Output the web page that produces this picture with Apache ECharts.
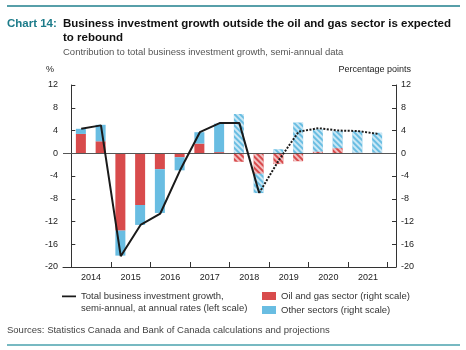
<!DOCTYPE html>
<html>
<head>
<meta charset="utf-8">
<script src="https://cdn.jsdelivr.net/npm/echarts@6/dist/echarts.min.js"></script>
<style>
  html, body { margin: 0; padding: 0; background: #fff; }
  #chart { width: 466px; height: 350px; }
</style>
</head>
<body>
<div id="chart"></div>
<script>
// ---- Data ----
var periods = ['2014H1','2014H2','2015H1','2015H2','2016H1','2016H2','2017H1','2017H2',
               '2018H1','2018H2','2019H1','2019H2','2020H1','2020H2','2021H1','2021H2'];
var yearLabels = ['2014','2015','2016','2017','2018','2019','2020','2021'];
var totalGrowth = [4.3, 4.9, -18.1, -12.6, -10.6, -3.0, 3.7, 5.3, 5.3, -7.0, -1.2, 3.8, 4.4, 4.0, 3.9, 3.4];
var oilGas      = [3.4, 2.1, -13.6, -9.1, -2.8, -0.7, 1.7, 0.2, -1.5, -3.6, -1.9, -1.4, 0.3, 0.9, 0.1, 0.1];
var otherSect   = [0.9, 2.9, -4.4, -3.5, -7.7, -2.3, 2.0, 5.0, 6.9, -3.4, 0.7, 5.4, 3.9, 3.0, 3.8, 3.5];
var leftTicks = { min: -20, max: 12, interval: 4 };
var firstProjectedBar = 8;   // 2018H1 onward hatched
var lastActualLine = 9;      // solid line through 2018H2

var RED = '#d84b4c', BLUE = '#69bde2', FONT = 'Liberation Sans';
var decal = { symbol: 'rect', dashArrayX: [1, 0], dashArrayY: [2, 2], rotation: Math.PI / 4, color: 'rgba(255,255,255,0.65)' };

function barData(arr) {
  return arr.map(function (v, i) {
    var d = { value: v };
    if (i >= firstProjectedBar) d.itemStyle = { decal: decal };
    return d;
  });
}
var solidLine = [], dottedLine = [];
totalGrowth.forEach(function (v, i) {
  if (i <= lastActualLine) solidLine.push([i + 0.5, v]);
  if (i >= lastActualLine) dottedLine.push([i + 0.5, v]);
});
var tickPos = yearLabels.map(function (y, k) { return 2 * k; }).concat([2 * yearLabels.length]);
var labelPos = yearLabels.map(function (y, k) { return 2 * k + 1; });

var chart = echarts.init(document.getElementById('chart'), null, { renderer: 'canvas' });
var axisCol = '#333';
var yAxisCommon = {
  type: 'value', gridIndex: 0, min: leftTicks.min, max: leftTicks.max, interval: leftTicks.interval,
  axisLine: { show: true, lineStyle: { color: axisCol, width: 1 } },
  axisTick: { show: true, inside: true, length: 4, lineStyle: { color: axisCol } },
  splitLine: { show: false },
  axisLabel: { fontFamily: FONT, fontSize: 9, color: '#222', margin: 5 }
};
var lineName = 'Total business investment growth,\nsemi-annual, at annual rates (left scale)';
chart.setOption({
  animation: false,
  textStyle: { fontFamily: FONT },
  title: [
    { text: 'Chart 14:', left: 7, top: 14, padding: [3, 0, 0, 0], textStyle: { fontFamily: FONT, fontSize: 11.5, fontWeight: 'bold', color: '#1c7b89', lineHeight: 14 } },
    { text: 'Business investment growth outside the oil and gas sector is expected\nto rebound', left: 63, top: 14, padding: [3, 0, 0, 0],
      textStyle: { fontFamily: FONT, fontSize: 11.5, fontWeight: 'bold', color: '#111', lineHeight: 14 } },
    { text: 'Contribution to total business investment growth, semi-annual data', left: 63, top: 47, padding: 0,
      textStyle: { fontFamily: FONT, fontSize: 9.5, fontWeight: 'normal', color: '#555' } },
    { text: 'Sources: Statistics Canada and Bank of Canada calculations and projections', left: 7, top: 325, padding: 0,
      textStyle: { fontFamily: FONT, fontSize: 9.5, fontWeight: 'normal', color: '#444' } }
  ],
  graphic: [
    { type: 'line', shape: { x1: 7, y1: 6, x2: 460, y2: 6 }, style: { stroke: '#1f7f8c', lineWidth: 1.3 } },
    { type: 'line', shape: { x1: 7, y1: 345, x2: 460, y2: 345 }, style: { stroke: '#4aa2ae', lineWidth: 1.3 } },
    { type: 'text', left: 46, top: 65, style: { text: '%', font: '9px ' + FONT, fill: '#222' } },
    { type: 'text', right: 55, top: 65, style: { text: 'Percentage points', font: '9px ' + FONT, fill: '#222' } }
  ],
  legend: [
    { left: 62, top: 290, padding: 0, itemWidth: 14, itemHeight: 14, icon: 'path://M0,6H15V8H0Z M0,20L0.01,20Z', itemGap: 4,
      data: [lineName], selectedMode: false,
      textStyle: { fontFamily: FONT, fontSize: 9.5, color: '#333', lineHeight: 12 } },
    { left: 262, top: 291, padding: 0, orient: 'vertical', itemWidth: 14, itemHeight: 8, itemGap: 4, icon: 'rect', selectedMode: false,
      data: ['Oil and gas sector (right scale)', 'Other sectors (right scale)'],
      textStyle: { fontFamily: FONT, fontSize: 9.5, color: '#333' } }
  ],
  grid: [
    { left: 63, right: 70, top: 85, bottom: 83, containLabel: false },
    { left: 71, right: 79, top: 85, bottom: 83, containLabel: false }
  ],
  xAxis: [
    {
      type: 'value', gridIndex: 0, min: -0.42, max: 16.42,
      axisLine: { show: true, onZero: false, lineStyle: { color: axisCol, width: 1 } },
      axisTick: { show: true, inside: true, length: 5, customValues: tickPos, lineStyle: { color: axisCol } },
      axisLabel: { customValues: labelPos, fontFamily: FONT, fontSize: 9, color: '#222', margin: 6,
        formatter: function (v) { return yearLabels[Math.round((v - 1) / 2)]; } },
      splitLine: { show: false }
    },
    { type: 'category', gridIndex: 1, data: periods, show: false }
  ],
  yAxis: [
    Object.assign({}, yAxisCommon, { position: 'left' }),
    Object.assign({}, yAxisCommon, { position: 'right' }),
    { type: 'value', gridIndex: 1, min: leftTicks.min, max: leftTicks.max, show: false, splitLine: { show: false } }
  ],
  series: [
    { name: 'Oil and gas sector (right scale)', type: 'bar', xAxisIndex: 1, yAxisIndex: 2, stack: 'c', barWidth: 10,
      itemStyle: { color: RED }, data: barData(oilGas) },
    { name: 'Other sectors (right scale)', type: 'bar', xAxisIndex: 1, yAxisIndex: 2, stack: 'c', barWidth: 10,
      itemStyle: { color: BLUE }, data: barData(otherSect) },
    { name: lineName, type: 'line', xAxisIndex: 0, yAxisIndex: 0, data: solidLine, symbol: 'none', color: '#1a1a1a',
      lineStyle: { color: '#1a1a1a', width: 2 }, z: 5,
      markLine: { silent: true, symbol: 'none', label: { show: false }, lineStyle: { color: '#555', width: 1, type: 'solid' },
        data: [{ yAxis: 0 }] } },
    { name: 'Total projected', type: 'line', xAxisIndex: 0, yAxisIndex: 0, data: dottedLine, symbol: 'none', color: '#1a1a1a',
      lineStyle: { color: '#1a1a1a', width: 2, type: [2, 1.5] }, z: 5 }
  ]
});
</script>
</body>
</html>
